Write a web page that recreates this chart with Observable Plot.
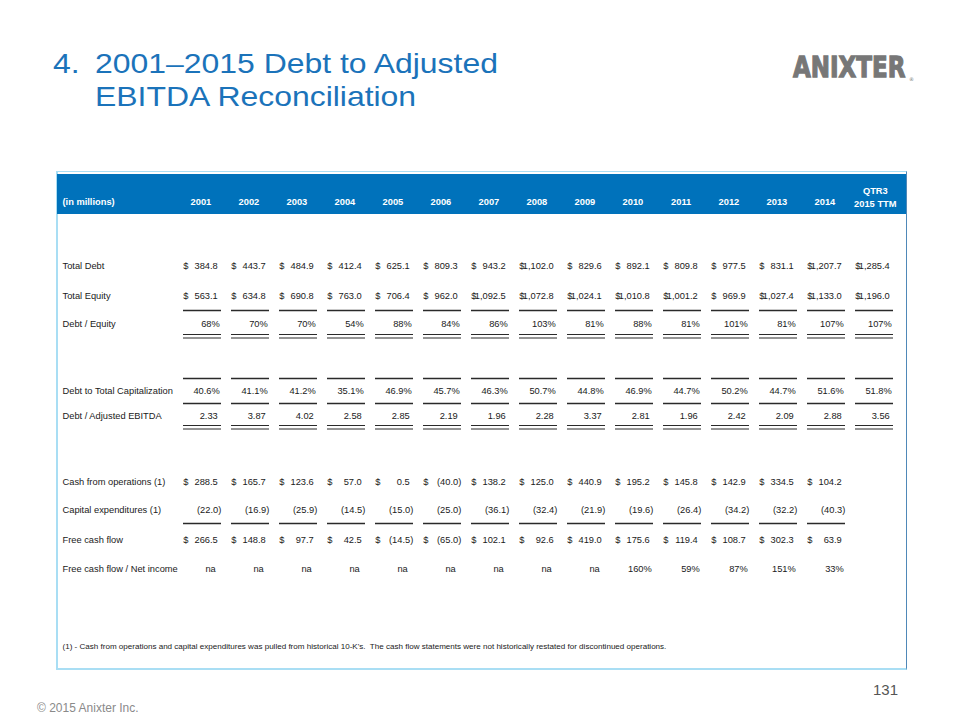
<!DOCTYPE html>
<html>
<head>
<meta charset="utf-8">
<script src="https://cdn.jsdelivr.net/npm/d3@7"></script>
<script src="https://cdn.jsdelivr.net/npm/@observablehq/plot@0.6"></script>
<style>
  html, body { margin: 0; padding: 0; background: #fff; }
  #page { position: relative; width: 960px; height: 720px; overflow: hidden;
          font-family: "Liberation Sans", Arial, Helvetica, sans-serif; }
  #title { position: absolute; left: 53px; top: 47px; color: #1b73ba;
           font-size: 28.5px; white-space: nowrap; transform: scaleX(1.12); transform-origin: 0 0; }
  #title div { height: 32.8px; line-height: 32.8px; overflow: visible; }
  #title .num { position: absolute; left: 0; top: 0; }
  #title .l { margin-left: 37.5px; }
  #logo { position: absolute; left: 786px; top: 46px; overflow: visible; }
  #box { position: absolute; left: 56px; top: 171px; width: 851px; height: 499px;
         box-sizing: border-box; border-left: 2px solid #a9def4; border-bottom: 2px solid #a9def4;
         border-right: 1.5px solid #4f88b8; border-top: 1px solid #a9def4; }
  #band { position: absolute; left: 57px; top: 174px; width: 849px; height: 40px; background: #0072bb; }
  #chart { position: absolute; left: 0; top: 0; }
  #copy { position: absolute; left: 37px; top: 701px; font-size: 12px; color: #8a8a8a; }
  #pagenum { position: absolute; right: 62px; top: 681px; font-size: 15px; color: #555; }
</style>
</head>
<body>
<div id="page">
  <div id="title"><div class="num">4.</div><div class="l">2001–2015 Debt to Adjusted</div><div class="l">EBITDA Reconciliation</div></div>
  <svg id="logo" width="140" height="45">
    <g transform="translate(7,31) scale(1,1.25)">
      <text x="0" y="0" font-family="DejaVu Sans, sans-serif" font-weight="bold" font-size="23"
            fill="#777" stroke="#777" stroke-width="1">ANIXTER</text>
    </g>
    <text x="123" y="35" font-family="DejaVu Sans, sans-serif" font-size="5" fill="#777">®</text>
  </svg>
  <div id="box"></div>
  <div id="band"></div>
  <div id="chart"></div>
  <div id="copy">© 2015 Anixter Inc.</div>
  <div id="pagenum">131</div>
</div>
<script>
// ---------- data ----------
const columns = ["2001","2002","2003","2004","2005","2006","2007","2008","2009","2010","2011","2012","2013","2014","QTR3\n2015 TTM"];
const unitsLabel = "(in millions)";
const rowLabels = [
  "Total Debt",
  "Total Equity",
  "Debt / Equity",
  "Debt to Total Capitalization",
  "Debt / Adjusted EBITDA",
  "Cash from operations (1)",
  "Capital expenditures (1)",
  "Free cash flow",
  "Free cash flow / Net income"
];
const totalDebt     = [384.8, 443.7, 484.9, 412.4, 625.1, 809.3, 943.2, 1102.0, 829.6, 892.1, 809.8, 977.5, 831.1, 1207.7, 1285.4];
const totalEquity   = [563.1, 634.8, 690.8, 763.0, 706.4, 962.0, 1092.5, 1072.8, 1024.1, 1010.8, 1001.2, 969.9, 1027.4, 1133.0, 1196.0];
const debtToEquity  = [68, 70, 70, 54, 88, 84, 86, 103, 81, 88, 81, 101, 81, 107, 107];
const debtToCap     = [40.6, 41.1, 41.2, 35.1, 46.9, 45.7, 46.3, 50.7, 44.8, 46.9, 44.7, 50.2, 44.7, 51.6, 51.8];
const debtToEbitda  = [2.33, 3.87, 4.02, 2.58, 2.85, 2.19, 1.96, 2.28, 3.37, 2.81, 1.96, 2.42, 2.09, 2.88, 3.56];
const cashFromOps   = [288.5, 165.7, 123.6, 57.0, 0.5, -40.0, 138.2, 125.0, 440.9, 195.2, 145.8, 142.9, 334.5, 104.2, null];
const capex         = [-22.0, -16.9, -25.9, -14.5, -15.0, -25.0, -36.1, -32.4, -21.9, -19.6, -26.4, -34.2, -32.2, -40.3, null];
const freeCashFlow  = [266.5, 148.8, 97.7, 42.5, -14.5, -65.0, 102.1, 92.6, 419.0, 175.6, 119.4, 108.7, 302.3, 63.9, null];
const fcfToNetIncome = ["na","na","na","na","na","na","na","na","na", 160, 59, 87, 151, 33, null];
const footnote = "(1) - Cash from operations and capital expenditures was pulled from historical 10-K's.  The cash flow statements were not historically restated for discontinued operations.";

// ---------- formatting / layout config ----------
const series = [totalDebt, totalEquity, debtToEquity, debtToCap, debtToEbitda, cashFromOps, capex, freeCashFlow, fcfToNetIncome];
const rowFormat = ["dollar","dollar","pct0","pct1","ratio","dollar","money","dollar","pct0"];
const HEADER_ROW = -1, FOOT_ROW = 9;
const yDomain = [-1, 0, 1, 2, 3, 4, 5, 6, 7, 8, 9];
const yRange  = [202, 266, 296, 324, 391, 416, 482, 510, 540, 569, 646];

const f1 = d3.format(",.1f");
function fmt(v, kind) {
  if (v === "na") return "na";
  if (kind === "pct0") return d3.format(".0f")(v) + "%";
  if (kind === "pct1") return d3.format(".1f")(v) + "%";
  if (kind === "ratio") return d3.format(".2f")(v);
  return v < 0 ? "(" + f1(-v) + ")" : f1(v);
}
const cells = [];
series.forEach((vals, r) => vals.forEach((v, c) => {
  if (v === null || v === undefined) return;
  const text = fmt(v, rowFormat[r]);
  const kind = text === "na" ? "na" : text.endsWith("%") ? "pct" : text.endsWith(")") ? "neg" : "pos";
  cells.push({row: r, col: columns[c], text, kind, dollar: rowFormat[r] === "dollar"});
}));

const HB = 19.26; // half bandwidth
const ink = "#1a1a1a";
const lineColor = "#2a2a2a";
const rowsOf = (r, cols) => cols.map(c => ({row: r, col: c}));
const allCols = columns, cfCols = columns.slice(0, 14);

const chart = Plot.plot({
  width: 960, height: 720,
  marginLeft: 62, marginRight: 0, marginTop: 0, marginBottom: 0,
  style: {background: "transparent", fontFamily: "'Liberation Sans', Arial, sans-serif", fontSize: "9.3px", color: ink, overflow: "visible"},
  x: {type: "band", domain: columns, range: [179, 897.5], paddingInner: 0.207, paddingOuter: 0, axis: null},
  y: {type: "linear", domain: yDomain, range: yRange, axis: null},
  marks: [
    // header
    Plot.text([unitsLabel], {y: () => HEADER_ROW, text: d => d, frameAnchor: "left", textAnchor: "start", fill: "white", fontWeight: "bold"}),
    Plot.text(columns.slice(0, 14), {x: d => d, y: () => HEADER_ROW, text: d => d, textAnchor: "end", dx: HB - 10.5, fill: "white", fontWeight: "bold"}),
    Plot.text(columns.slice(14), {x: d => d, y: () => HEADER_ROW, text: d => d, textAnchor: "middle", lineHeight: 1.4, dy: -6.5, dx: 0.8, fill: "white", fontWeight: "bold"}),
    // row labels
    Plot.text(rowLabels, {y: (d, i) => i, text: d => d, frameAnchor: "left", textAnchor: "start", fill: ink}),
    // dollar signs
    Plot.text(cells.filter(d => d.dollar), {x: "col", y: "row", text: () => "$", textAnchor: "start", dx: -HB, fill: ink}),
    // values
    Plot.text(cells.filter(d => d.kind === "pos"), {x: "col", y: "row", text: "text", textAnchor: "end", dx: HB - 4, fill: ink}),
    Plot.text(cells.filter(d => d.kind === "neg"), {x: "col", y: "row", text: "text", textAnchor: "end", dx: HB - 0.5, fill: ink}),
    Plot.text(cells.filter(d => d.kind === "pct"), {x: "col", y: "row", text: "text", textAnchor: "end", dx: HB - 2, fill: ink}),
    Plot.text(cells.filter(d => d.kind === "na"), {x: "col", y: "row", text: "text", textAnchor: "end", dx: HB - 6, fill: ink}),
    // rules
    Plot.tickY(rowsOf(1, allCols), {x: "col", y: "row", dy: 14, stroke: lineColor, strokeWidth: 1.3}),
    Plot.tickY(rowsOf(2, allCols), {x: "col", y: "row", dy: 10, stroke: lineColor, strokeWidth: 1}),
    Plot.tickY(rowsOf(2, allCols), {x: "col", y: "row", dy: 13.5, stroke: lineColor, strokeWidth: 1}),
    Plot.tickY(rowsOf(3, allCols), {x: "col", y: "row", dy: -13, stroke: lineColor, strokeWidth: 1.3}),
    Plot.tickY(rowsOf(3, allCols), {x: "col", y: "row", dy: 12, stroke: lineColor, strokeWidth: 1.3}),
    Plot.tickY(rowsOf(4, allCols), {x: "col", y: "row", dy: 9, stroke: lineColor, strokeWidth: 1}),
    Plot.tickY(rowsOf(4, allCols), {x: "col", y: "row", dy: 12.5, stroke: lineColor, strokeWidth: 1}),
    Plot.tickY(rowsOf(6, cfCols), {x: "col", y: "row", dy: 13, stroke: lineColor, strokeWidth: 1.3}),
    // footnote
    Plot.text([footnote], {y: () => FOOT_ROW, text: d => d, frameAnchor: "left", textAnchor: "start", fontSize: 8.05, fill: ink})
  ]
});
document.getElementById("chart").appendChild(chart);
</script>
</body>
</html>
